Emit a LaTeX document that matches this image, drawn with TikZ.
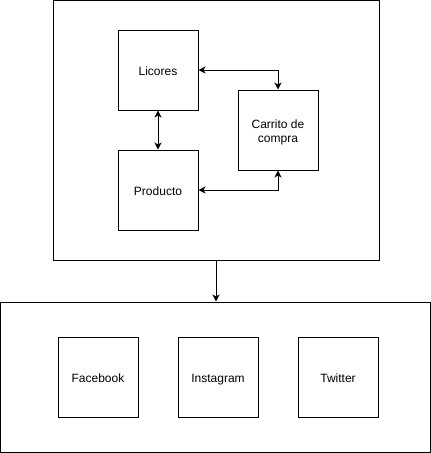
\documentclass[tikz,border=0pt]{standalone}
\usepackage{fontspec}
\setmainfont{Liberation Sans}
\usepackage{tikz}
\usetikzlibrary{arrows.meta}

\begin{document}
\begin{tikzpicture}[x=1pt,y=-1pt,semithick,font=\fontsize{12}{14}\selectfont,
        >={Stealth[length=7pt,width=7pt,inset=2pt]}]
        \tikzstyle{boxnode}=[
            rectangle,
            draw=black,
            line width=1pt,
            minimum width=80pt,
            minimum height=80pt,
            inner sep=0pt,
            align=center,
            text=black
        ]
        \tikzstyle{onelinenode}=[
            boxnode,
            text height=14pt,
            text depth=2.6pt
        ]
        \tikzstyle{framenode}=[
            rectangle,
            draw=black,
            line width=1pt,
            inner sep=0pt
        ]

        \useasboundingbox (0,0) rectangle (431,453);

        \node[framenode, minimum width=326pt, minimum height=260pt] (T) at (216,130.5){};
        \node[framenode, minimum width=430pt, minimum height=150pt] (S) at (215.5,377){};

        \node[onelinenode] (L) at (158,70){Licores};
        \node[onelinenode] (P) at (158,190){Producto};
        \node[boxnode, text height=26.6pt, text depth=2.6pt] (C) at (278,130){Carrito de\\compra};

        \node[onelinenode] (F) at (98,377){Facebook};
        \node[onelinenode] (I) at (218,377){Instagram};
        \node[onelinenode] (W) at (338,377){Twitter};

        \draw[<->, line width=1pt] (L) -- (P);
        \draw[<->, line width=1pt] (L.east) -| (C.north);
        \draw[<->, line width=1pt] (P.east) -| (C.south);
        \draw[->, line width=1pt] (T.south) -- (T.south |- S.north);

    \end{tikzpicture}
\end{document}
